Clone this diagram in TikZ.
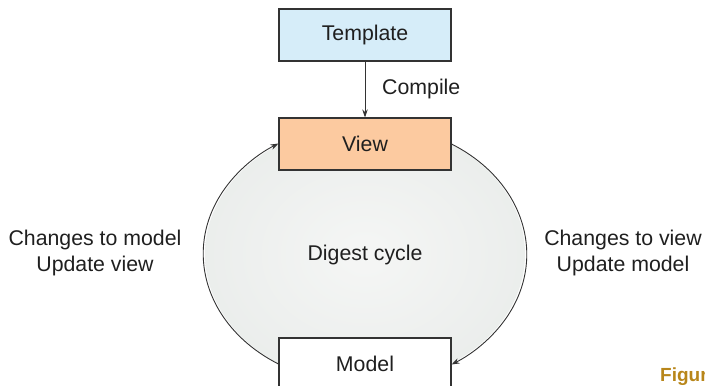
\documentclass[tikz,border=0pt]{standalone}
\usepackage{fontspec}
\setmainfont{Liberation Sans}
\usetikzlibrary{arrows.meta}
\definecolor{tplblue}{HTML}{D6EDF9}
\definecolor{viewpeach}{HTML}{FCCAA0}
\definecolor{linegray}{HTML}{333333}
\definecolor{figgold}{HTML}{B8861A}
\definecolor{digin}{HTML}{F5F6F5}
\definecolor{digout}{HTML}{E1E5E3}
\pgfdeclareradialshading{digest}{\pgfpoint{0bp}{0bp}}{color(0bp)=(digin); color(50bp)=(digout)}
\begin{document}
\begin{tikzpicture}[x=1pt,y=1pt,
  box/.style={draw=linegray, line width=1.1pt, minimum width=172pt, minimum height=52pt, inner sep=0pt, font=\fontsize{21.3}{25}\selectfont, text=black!88},
  lbl/.style={font=\fontsize{21.3}{26}\selectfont, align=center, text=black!88, inner sep=0pt},
  conn/.style={draw=linegray, line width=0.9pt, -{Stealth[length=8pt,width=5.5pt]}}]
\useasboundingbox (0,0) rectangle (705,-386);
\clip (0,0) rectangle (705,-386);
\shade[shading=digest] (365,-254) ellipse [x radius=160, y radius=130];
\node[box, fill=tplblue] (tpl) at (365,-35) {Template};
\node[box, fill=viewpeach] (view) at (365,-144) {View};
\node[box, fill=white] (model) at (365,-364) {Model};
\draw[conn] (tpl) -- (view);
\node[lbl, anchor=west] (compile) at (382,-89) {Compile};
\draw[conn] (model.west) arc[start angle=238, end angle=122, x radius=160, y radius=130];
\draw[conn] (view.east) arc[start angle=58, end angle=-58, x radius=160, y radius=130];
\node[lbl] (digest) at (365,-255) {Digest cycle};
\node[lbl] (left) at (95,-253) {Changes to model\\Update view};
\node[lbl] (right) at (623,-253) {Changes to view\\Update model};
\node[anchor=base west, inner sep=0pt, text=figgold, font=\fontsize{19}{22}\bfseries\selectfont] (fig) at (660,-381) {Figur};
\end{tikzpicture}
\end{document}
